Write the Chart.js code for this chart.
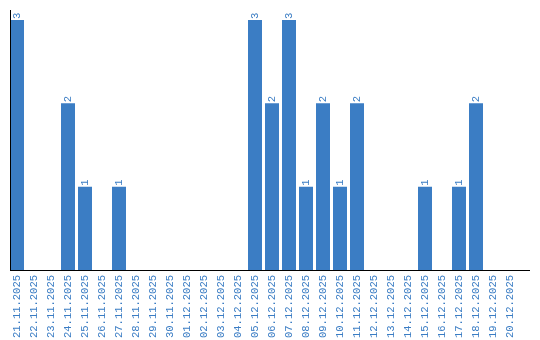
<!DOCTYPE html>
<html>
<head>
<meta charset="utf-8">
<script src="https://cdn.jsdelivr.net/npm/chart.js@4/dist/chart.umd.min.js"></script>
<style>
html,body{margin:0;padding:0;background:#fff;}
#wrap{width:540px;height:340px;position:relative;}
</style>
</head>
<body>
<div id="wrap"><canvas id="c" width="540" height="340"></canvas></div>
<script>
const categories = ["21.11.2025","22.11.2025","23.11.2025","24.11.2025","25.11.2025","26.11.2025","27.11.2025","28.11.2025","29.11.2025","30.11.2025","01.12.2025","02.12.2025","03.12.2025","04.12.2025","05.12.2025","06.12.2025","07.12.2025","08.12.2025","09.12.2025","10.12.2025","11.12.2025","12.12.2025","13.12.2025","14.12.2025","15.12.2025","16.12.2025","17.12.2025","18.12.2025","19.12.2025","20.12.2025"];
const counts = [3,0,0,2,1,0,1,0,0,0,0,0,0,0,3,2,3,1,2,1,2,0,0,0,1,0,1,2,0,0];

const BLUE = '#3b7dc4';
const FONT = {family:'"Liberation Mono", monospace', size:10.5};

const decor = {
  id:'decor',
  afterDatasetsDraw(chart){
    const ctx = chart.ctx, a = chart.chartArea;
    ctx.save();
    const meta = chart.getDatasetMeta(0);
    ctx.fillStyle = BLUE;
    ctx.font = FONT.size + 'px ' + FONT.family;
    ctx.textAlign = 'left';
    ctx.textBaseline = 'middle';
    meta.data.forEach((el,i)=>{
      const v = counts[i];
      if(!v) return;
      ctx.save();
      ctx.translate(el.x, el.y - 1);
      ctx.rotate(-Math.PI/2);
      ctx.fillText(String(v), 0, 0);
      ctx.restore();
    });
    ctx.strokeStyle = '#000';
    ctx.lineWidth = 1;
    ctx.beginPath();
    ctx.moveTo(a.left + 2, a.top);
    ctx.lineTo(a.left + 2, a.bottom + 0.5);
    ctx.moveTo(a.left + 1.5, a.bottom + 0.5);
    ctx.lineTo(a.right + 11.5, a.bottom + 0.5);
    ctx.stroke();
    ctx.restore();
  }
};

new Chart(document.getElementById('c'), {
  type:'bar',
  data:{labels:categories, datasets:[{data:counts, backgroundColor:BLUE, borderWidth:0, barPercentage:14/17, categoryPercentage:1}]},
  options:{
    responsive:false, animation:false,
    layout:{padding:{left:8.5, right:21.5, top:10, bottom:0}},
    plugins:{legend:{display:false}, tooltip:{enabled:false}},
    scales:{
      x:{
        grid:{display:false, drawTicks:false},
        border:{display:false},
        ticks:{color:BLUE, font:FONT, minRotation:90, maxRotation:90, padding:5, autoSkip:false},
        afterFit(s){ s.height = 70; }
      },
      y:{display:false, min:0, max:3.12}
    }
  },
  plugins:[decor]
});
</script>
</body>
</html>
